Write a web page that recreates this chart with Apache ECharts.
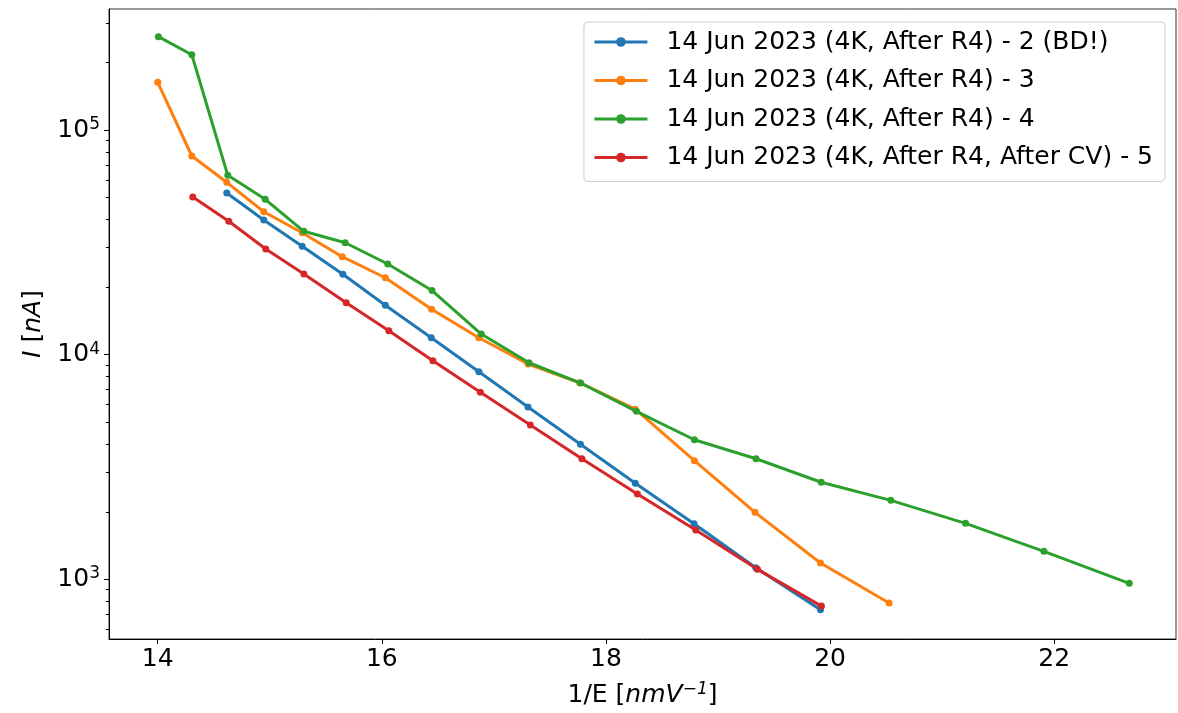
<!DOCTYPE html>
<html><head><meta charset="utf-8">
<script src="https://cdn.jsdelivr.net/npm/echarts@6/dist/echarts.min.js"></script>
<style>html,body{margin:0;padding:0;background:#fff}#c{width:1178px;height:713px}</style>
</head><body><div id="c"></div>
<script>
// ---- data (I in nA, x = 1/E in nm/V) ----
const names = [
  '14 Jun 2023 (4K, After R4) - 2 (BD!)',
  '14 Jun 2023 (4K, After R4) - 3',
  '14 Jun 2023 (4K, After R4) - 4',
  '14 Jun 2023 (4K, After R4, After CV) - 5'
];
const colors = ['#1f77b4', '#ff7f0e', '#2ca02c', '#d62728'];

const xBlue = [14.616, 14.946, 15.289, 15.652, 16.031, 16.441, 16.866, 17.304, 17.772, 18.262, 18.786, 19.337, 19.914];
const yBlue = [52440, 39770, 30370, 22800, 16610, 11900, 8401, 5851, 3996, 2680, 1770, 1127, 733];

const xOrange = [14.0, 14.304, 14.616, 14.946, 15.289, 15.646, 16.031, 16.444, 16.866, 17.304, 17.765, 18.261, 18.789, 19.330, 19.914, 20.527];
const yOrange = [163000, 76620, 58510, 43280, 34900, 27300, 22010, 15940, 11900, 9091, 7506, 5722, 3376, 1989, 1183, 785];

const xGreen = [14.006, 14.304, 14.625, 14.959, 15.304, 15.673, 16.053, 16.448, 16.887, 17.313, 17.774, 18.272, 18.789, 19.339, 19.921, 20.542, 21.209, 21.908, 22.670];
const yGreen = [260200, 216300, 62860, 49160, 35420, 31510, 25330, 19310, 12360, 9213, 7483, 5600, 4184, 3445, 2708, 2249, 1777, 1334, 961];

const xRed = [14.3125, 14.634, 14.964, 15.304, 15.682, 16.0625, 16.455, 16.879, 17.325, 17.785, 18.280, 18.801, 19.352, 19.923];
const yRed = [50330, 39240, 29540, 22870, 17040, 12790, 9404, 6802, 4865, 3445, 2399, 1659, 1109, 761];

const xTickLabels = [14, 16, 18, 20, 22];
const yMajorExponents = [3, 4, 5];

// ---- build ----
const FONT = 'DejaVu Sans';
const FS = 25;
const xs = [xBlue, xOrange, xGreen, xRed];
const ys = [yBlue, yOrange, yGreen, yRed];
const yMin = 2.735, yMax = 5.5385;
const minorTicks = [];
for (let n = 2; n <= 5; n++) for (let k = 2; k <= 9; k++) {
  const v = Math.log10(k * Math.pow(10, n));
  if (v > yMin && v < yMax) minorTicks.push(v);
}

const series = names.map((nm, i) => ({
  name: nm,
  type: 'line',
  yAxisIndex: 0,
  data: xs[i].map((x, j) => [x, Math.log10(ys[i][j])]),
  symbol: 'circle',
  symbolSize: 7,
  showSymbol: true,
  lineStyle: { width: 3, color: colors[i] },
  itemStyle: { color: colors[i] },
  emphasis: { disabled: true },
  animation: false,
  z: 2 + i
}));

const chart = echarts.init(document.getElementById('c'), null, { renderer: 'canvas' });
chart.setOption({
  animation: false,
  backgroundColor: '#fff',
  textStyle: { fontFamily: FONT },
  grid: { left: 109, right: 2, top: 9, bottom: 74, show: true, borderColor: '#333', borderWidth: 1, backgroundColor: 'transparent' },
  legend: {
    orient: 'vertical',
    right: 13, top: 22,
    itemWidth: 53, itemHeight: 12, itemGap: 10.5,
    padding: [6, 12, 10, 9],
    backgroundColor: 'rgba(255,255,255,0.8)',
    borderColor: '#ccc', borderWidth: 1, borderRadius: 4,
    lineStyle: { width: 3 },
    textStyle: { fontFamily: FONT, fontSize: FS, lineHeight: 28, color: '#000', padding: [0, 0, 0, 14] },
    data: names
  },
  xAxis: {
    type: 'value', min: 13.565, max: 23.087,
    splitLine: { show: false },
    axisLine: { onZero: false, lineStyle: { color: '#000', width: 1 } },
    axisTick: { customValues: xTickLabels, length: 5, lineStyle: { color: '#000' } },
    axisLabel: { customValues: xTickLabels, fontFamily: FONT, fontSize: FS, color: '#000', margin: 8 },
    name: '1/E [{i|nmV}{sup|−1}]',
    nameLocation: 'middle', nameGap: 42,
    nameTextStyle: { fontFamily: FONT, fontSize: FS, color: '#000',
      rich: { i: { fontFamily: FONT, fontStyle: 'italic', fontSize: FS }, sup: { fontFamily: FONT, fontStyle: 'italic', fontSize: 17, verticalAlign: 'top', padding: [0, 0, 12, 0] } } }
  },
  yAxis: [{
    type: 'value', min: yMin, max: yMax,
    splitLine: { show: false },
    axisLine: { lineStyle: { color: '#000', width: 1 } },
    axisTick: { customValues: yMajorExponents, length: 5, lineStyle: { color: '#000' } },
    axisLabel: {
      customValues: yMajorExponents, margin: 9, color: '#000',
      formatter: v => '10{sup|' + Math.round(v) + '}',
      fontFamily: FONT, fontSize: FS,
      rich: { sup: { fontFamily: FONT, fontSize: 17, verticalAlign: 'top', padding: [0, 0, 11, 0], color: '#000' } }
    },
    name: '{i|I} [{i|nA}]',
    nameLocation: 'middle', nameGap: 60,
    nameTextStyle: { fontFamily: FONT, fontSize: FS, color: '#000', rich: { i: { fontFamily: FONT, fontStyle: 'italic', fontSize: FS } } }
  }, {
    type: 'value', min: yMin, max: yMax, position: 'left',
    splitLine: { show: false },
    axisLine: { show: false },
    axisTick: { customValues: minorTicks, length: 3, lineStyle: { color: '#000' } },
    axisLabel: { show: false }
  }],
  series: series
});
</script></body></html>
